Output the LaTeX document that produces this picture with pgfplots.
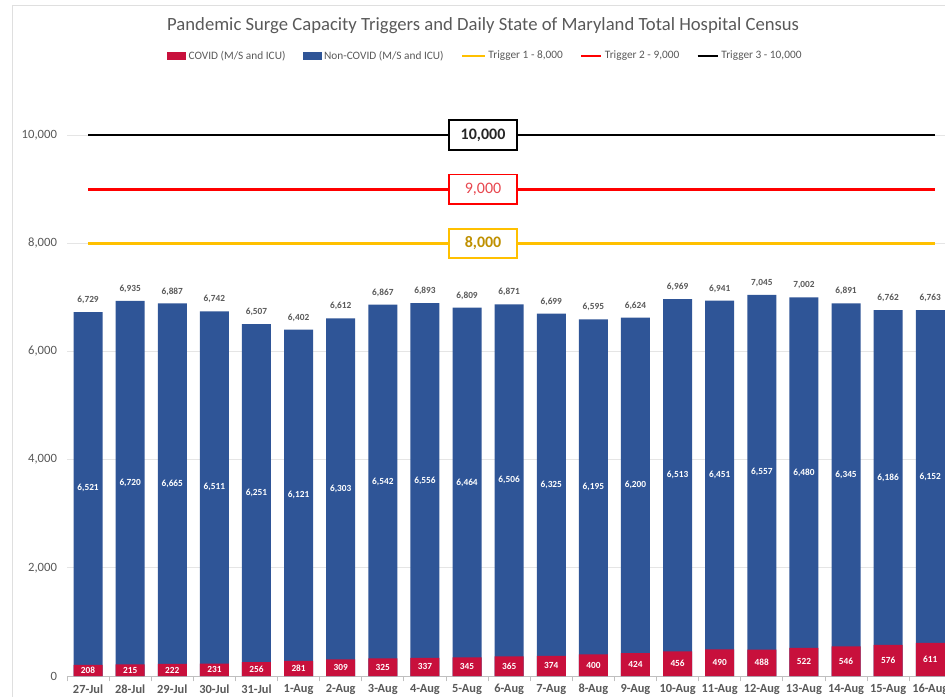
\documentclass[border=0pt]{standalone}
\usepackage{pgfplots}
\pgfplotsset{compat=1.18}
\usepackage{pgfplotstable}
\usepackage{fontspec}
\setmainfont{Carlito}
\definecolor{covid}{HTML}{C8103C}
\definecolor{noncovid}{HTML}{2F5597}
\definecolor{trig1}{HTML}{FFC000}
\definecolor{trig2}{HTML}{FF0000}
\definecolor{txt}{HTML}{595959}
\definecolor{gold}{HTML}{BF9000}
\definecolor{lblred}{HTML}{E8474F}

\pgfplotstableread{
x covid non
0 208 6521
1 215 6720
2 222 6665
3 231 6511
4 256 6251
5 281 6121
6 309 6303
7 325 6542
8 337 6556
9 345 6464
10 365 6506
11 374 6325
12 400 6195
13 424 6200
14 456 6513
15 490 6451
16 488 6557
17 522 6480
18 546 6345
19 576 6186
20 611 6152
}\datatable

\pgfplotsset{
  hidemark/.style={draw=none, mark=none, forget plot},
}

\begin{document}
\begin{tikzpicture}
\path[use as bounding box] (-50.25pt,-15pt) rectangle (658.5pt,507pt);
\draw[gray!25, line width=0.6pt] (-41.25pt,-20pt) -- (-41.25pt,503.25pt) -- (700pt,503.25pt);
\begin{axis}[
  scale only axis, width=658.5pt, height=446.25pt,
  xmin=-0.5, xmax=20.35, ymin=0, ymax=11000,
  axis x line*=bottom, axis y line*=left,
  y axis line style={draw=none},
  x axis line style={gray!50, line width=0.7pt},
  xtick={0,...,20},
  xticklabels={27-Jul,28-Jul,29-Jul,30-Jul,31-Jul,1-Aug,2-Aug,3-Aug,4-Aug,5-Aug,6-Aug,7-Aug,8-Aug,9-Aug,10-Aug,11-Aug,12-Aug,13-Aug,14-Aug,15-Aug,16-Aug},
  major x tick style={draw=none},
  minor xtick={-0.5,0.5,...,20.5},
  minor x tick style={gray!50, line width=0.7pt},
  minor tick length=4pt,
  xtick align=outside,
  ytick={0,2000,4000,6000,8000,10000},
  scaled y ticks=false,
  ytick style={draw=none},
  ymajorgrids, grid style={gray!20, line width=0.7pt},
  yticklabel style={font=\fontsize{9.5}{11}\selectfont, text=txt, xshift=-4pt},
  xticklabel style={font=\fontsize{9.3}{11}\selectfont\bfseries, text=txt, yshift=1.5pt},
  /pgf/number format/1000 sep={,},
  /pgf/number format/assume math mode=true,
  title={Pandemic Surge Capacity Triggers and Daily State of Maryland Total Hospital Census},
  title style={at={(0.474,1.079)}, anchor=center, font=\fontsize{14}{16}\selectfont, text=txt},
  legend style={at={(0.477,1.042)}, anchor=center, draw=none, fill=none,
    font=\fontsize{8.5}{10}\selectfont, text=txt,
    /tikz/every even column/.append style={column sep=11pt},
    /tikz/every odd column/.append style={column sep=0pt}},
  legend columns=5,
  legend cell align=left,
]
% legend
\addlegendimage{legend image code/.code={\fill[covid] (0pt,-2.6pt) rectangle (13.5pt,2.6pt);}}
\addlegendentry{COVID (M/S and ICU)}
\addlegendimage{legend image code/.code={\fill[noncovid] (0pt,-2.6pt) rectangle (13.5pt,2.6pt);}}
\addlegendentry{Non-COVID (M/S and ICU)}
\addlegendimage{legend image code/.code={\draw[trig1, line width=1.6pt] (0pt,0pt) -- (17pt,0pt);}}
\addlegendentry{Trigger 1 - 8,000}
\addlegendimage{legend image code/.code={\draw[trig2, line width=1.6pt] (0pt,0pt) -- (15pt,0pt);}}
\addlegendentry{Trigger 2 - 9,000}
\addlegendimage{legend image code/.code={\draw[black, line width=1.6pt] (0pt,0pt) -- (15pt,0pt);}}
\addlegendentry{Trigger 3 - 10,000}

% bars
\addplot[ybar, bar width=21.75pt, bar shift=0pt, fill=noncovid, draw=none, forget plot]
  table[x=x, y expr=\thisrow{covid}+\thisrow{non}] {\datatable};
\addplot[ybar, bar width=21.75pt, bar shift=0pt, fill=covid, draw=none, forget plot]
  table[x=x, y=covid] {\datatable};

% labels
\addplot[hidemark, nodes near coords, point meta=explicit, nodes near coords align={center},
  every node near coord/.append style={font=\fontsize{7}{8}\selectfont\bfseries, text=white}]
  table[x=x, y expr=\thisrow{covid}+0.5*\thisrow{non}, meta=non] {\datatable};
\addplot[hidemark, nodes near coords, point meta=explicit, nodes near coords align={center},
  every node near coord/.append style={font=\fontsize{7}{8}\selectfont\bfseries, text=white}]
  table[x=x, y expr=0.5*\thisrow{covid}, meta=covid] {\datatable};
\addplot[hidemark, nodes near coords, point meta=explicit, nodes near coords align={center},
  every node near coord/.append style={font=\fontsize{7}{8}\selectfont\bfseries, text=txt, yshift=9pt}]
  table[x=x, y expr=\thisrow{covid}+\thisrow{non}, meta expr=\thisrow{covid}+\thisrow{non}] {\datatable};

% trigger lines
\addplot[trig1, line width=2pt, forget plot] coordinates {(0,8000) (20.12,8000)};
\addplot[trig2, line width=2pt, forget plot] coordinates {(0,9000) (20.12,9000)};
\addplot[black, line width=2pt, forget plot] coordinates {(0,10000) (20.12,10000)};

% trigger boxes
\addplot[hidemark, nodes near coords={\bfseries 8{,}000}, nodes near coords align={center},
  every node near coord/.append style={draw=trig1, line width=1.4pt, fill=white, minimum width=51pt, minimum height=22pt, font=\fontsize{12}{14}\selectfont, text=gold}]
  coordinates {(9.38,8000)};
\addplot[hidemark, nodes near coords={9{,}000}, nodes near coords align={center},
  every node near coord/.append style={draw=trig2, line width=1.4pt, fill=white, minimum width=51pt, minimum height=22pt, font=\fontsize{12}{14}\selectfont, text=lblred}]
  coordinates {(9.38,9000)};
\addplot[hidemark, nodes near coords={\bfseries 10{,}000}, nodes near coords align={center},
  every node near coord/.append style={draw=black, line width=1.4pt, fill=white, minimum width=51pt, minimum height=22pt, font=\fontsize{12}{14}\selectfont, text=black!85}]
  coordinates {(9.38,10000)};
\end{axis}
\end{tikzpicture}
\end{document}
